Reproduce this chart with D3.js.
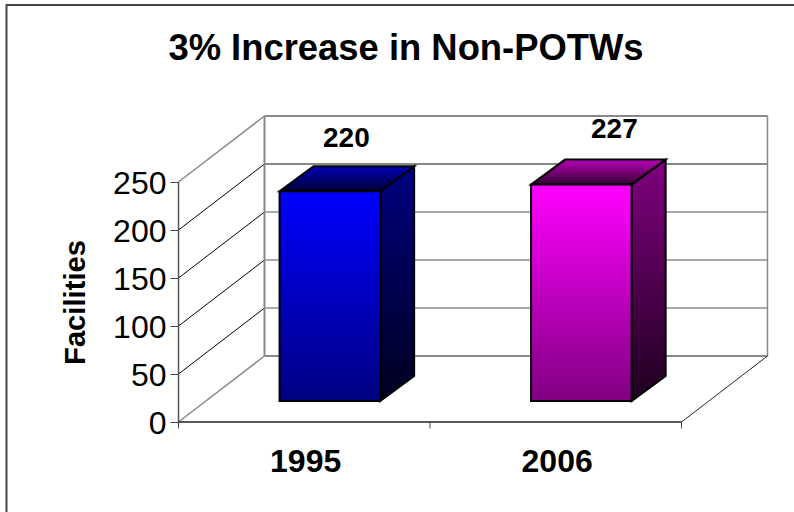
<!DOCTYPE html>
<html><head><meta charset="utf-8">
<script src="https://cdn.jsdelivr.net/npm/d3@7"></script>
<style>html,body{margin:0;padding:0;background:#fff}svg{display:block}text{font-family:"Liberation Sans",Arial,sans-serif;fill:#000}</style>
</head><body><svg id="c" width="794" height="512"></svg>
<script>
const categories = ["1995", "2006"];
const facilities = [220, 227];
const yTicks = [0, 50, 100, 150, 200, 250];
const titleText = "3% Increase in Non-POTWs";
const yTitle = "Facilities";
const frontColors = ["#0000ff", "#ff00ff"];

const svg = d3.select("#c");
const x0 = 178.5, x1 = 681.5, yB = 422, yT = 182, dx = 86, dy = -66;
const x = d3.scaleBand().domain(categories).range([x0, x1]).paddingInner(0).paddingOuter(0);
const y = d3.scaleLinear().domain([0, 250]).range([yB, yT]);
const yBar = d3.scaleLinear().domain([0, 250]).range([401, 401 - 238.3]);
const barW = x.bandwidth() / 2.5, depthX = 34, depthY = -25, offX = 25.6;
const labelDx = [16.5, 33], labelDy = [-19, -21.4];

// frame: only the top and left edges are visible
svg.append("path").attr("d", "M794,5H6.5V512").attr("fill", "none").attr("stroke", "#444").attr("stroke-width", 2);

const defs = svg.append("defs");
function grad(id, top, bottom) {
  const g = defs.append("linearGradient").attr("id", id).attr("x1", 0).attr("x2", 0).attr("y1", 0).attr("y2", 1);
  g.append("stop").attr("offset", 0).attr("stop-color", top);
  g.append("stop").attr("offset", 1).attr("stop-color", bottom);
}
frontColors.forEach((c, i) => {
  const col = d3.color(c);
  const mul = k => d3.rgb(col.r * k, col.g * k, col.b * k).formatHex();
  grad("f" + i, c, mul(0.5));
  grad("s" + i, mul(0.5), mul(0.12));
  grad("t" + i, mul(0.72), mul(0.2));
});

// side wall + back wall grid
yTicks.forEach(t => {
  const gray = t === 0 || t === 250;
  svg.append("line").attr("x1", x0).attr("y1", y(t)).attr("x2", x0 + dx).attr("y2", y(t) + dy)
    .attr("stroke", gray ? "#888" : "#000").attr("stroke-width", gray ? 1.5 : 1);
  svg.append("line").attr("x1", x0 + dx).attr("y1", y(t) + dy).attr("x2", x1 + dx).attr("y2", y(t) + dy)
    .attr("stroke", gray ? "#888" : (t === 200 ? "#111" : "#555")).attr("stroke-width", gray ? 2 : 1);
});
svg.append("line").attr("x1", x0 + dx).attr("y1", yT + dy).attr("x2", x0 + dx).attr("y2", yB + dy).attr("stroke", "#888").attr("stroke-width", 2);
svg.append("line").attr("x1", x1 + dx).attr("y1", yT + dy).attr("x2", x1 + dx).attr("y2", yB + dy).attr("stroke", "#888").attr("stroke-width", 1.5);
svg.append("line").attr("x1", x1).attr("y1", yB).attr("x2", x1 + dx).attr("y2", yB + dy).attr("stroke", "#222").attr("stroke-width", 1);

// axes
const gY = svg.append("g").attr("transform", `translate(${x0},0)`)
  .call(d3.axisLeft(y).tickValues(yTicks).tickSize(8).tickPadding(4));
gY.selectAll("text").style("font-size", "32px").attr("dy", "0.36em");
gY.selectAll("line").attr("stroke", "#444");
gY.select(".domain").attr("stroke", "#555").attr("stroke-width", 1.5).attr("d", `M0,${yT}V${yB}`);

const gX = svg.append("g").attr("transform", `translate(0,${yB})`)
  .call(d3.axisBottom(x).tickValues([]).tickSizeOuter(0));
gX.select(".domain").attr("stroke", "#222").attr("stroke-width", 1.3).attr("d", `M${x0},0H${x1}`);
[x0, x0 + x.bandwidth(), x1].forEach(v => gX.append("line").attr("x1", v).attr("x2", v).attr("y1", 0).attr("y2", 6.5).attr("stroke", "#444"));
gX.selectAll(".lab").data(categories).join("text").attr("class", "lab")
  .attr("x", d => x(d) + x.bandwidth() / 2 + 1.4).attr("y", 49.5).attr("text-anchor", "middle")
  .style("font-size", "32px").style("font-weight", "bold").text(d => d);

// bars
const bars = svg.selectAll(".bar").data(categories).join("g").attr("class", "bar");
bars.each(function (d, i) {
  const g = d3.select(this);
  const l = x(d) + x.bandwidth() / 2 + offX - barW / 2, r = l + barW;
  const top = yBar(facilities[i]), bot = yBar(0);
  const path = (pts, fill) => g.append("path").attr("d", d3.line()(pts) + "Z").attr("fill", fill)
    .attr("stroke", "#000").attr("stroke-width", 2).attr("stroke-linejoin", "miter");
  path([[r, top], [r + depthX, top + depthY], [r + depthX, bot + depthY], [r, bot]], `url(#s${i})`);
  path([[l, top], [l + depthX, top + depthY], [r + depthX, top + depthY], [r, top]], `url(#t${i})`);
  path([[l, top], [r, top], [r, bot], [l, bot]], `url(#f${i})`);
  g.append("text").attr("x", l + barW / 2 + labelDx[i]).attr("y", top + depthY + labelDy[i])
    .attr("text-anchor", "middle").style("font-size", "28px").style("font-weight", "bold").text(facilities[i]);
});

svg.append("text").attr("x", 406).attr("y", 60).attr("text-anchor", "middle").style("font-size", "36.4px").style("font-weight", "bold").text(titleText);
svg.append("text").attr("transform", "translate(85,302.5) rotate(-90)").attr("text-anchor", "middle").style("font-size", "29.2px").style("font-weight", "bold").text(yTitle);
</script></body></html>
